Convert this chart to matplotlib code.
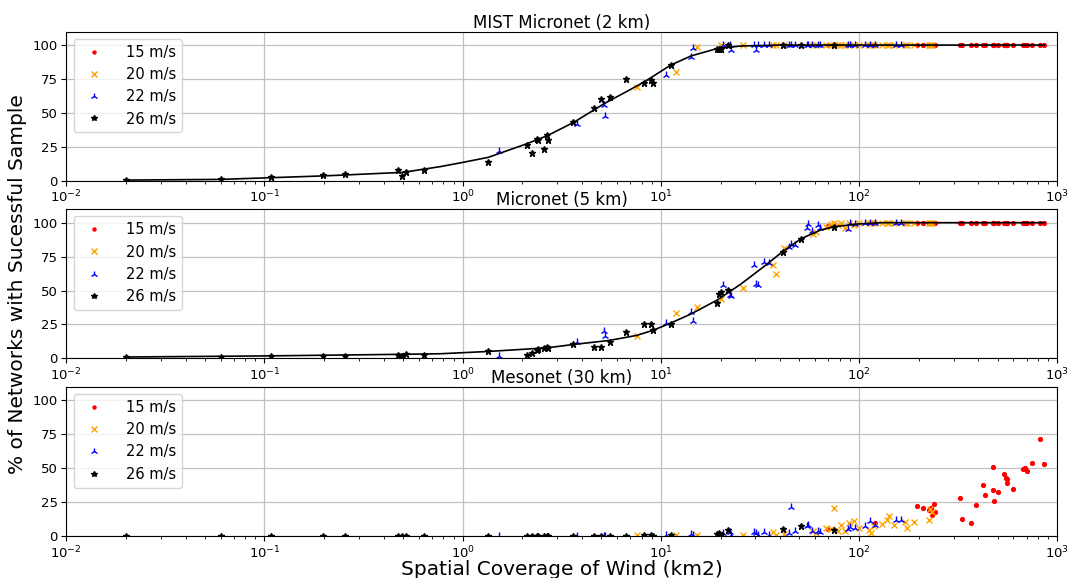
import numpy as np
import matplotlib
matplotlib.use('Agg')
import matplotlib.pyplot as plt

# spatial coverage (km2) of each network sample, per wind speed
x15 = [70, 121, 196, 211, 226, 231, 234, 239, 241, 322, 330, 367, 388, 423, 430,
       472, 475, 478, 501, 537, 552, 555, 560, 595, 672, 685, 703, 747, 817, 855]
x20 = [7.54, 11.9, 15.3, 20, 26, 36.6, 38, 41.8, 58.6, 60.3, 68, 72, 75, 78, 81,
       85, 89, 94, 100, 112, 115, 119, 130, 139, 142, 150, 170, 175, 189, 226, 228, 233]
x22 = [1.52, 3.76, 5.17, 5.2, 10.6, 14.2, 14.5, 20.7, 22.3, 22.6, 29.6, 30.3, 30.8,
       33, 35, 44.5, 45.5, 47.5, 54.5, 55, 58, 62, 63.5, 88, 90, 95, 107, 113, 120, 154, 163]
x26 = [0.02, 0.06, 0.108, 0.198, 0.256, 0.473, 0.496, 0.515, 0.638, 1.35, 2.10, 2.23,
       2.37, 2.40, 2.56, 2.66, 2.68, 3.62, 4.60, 4.98, 5.53, 6.65, 8.24, 8.90, 9.10,
       11.2, 19.2, 19.7, 20.2, 21.8, 41.2, 51.0, 75.0]

# MIST Micronet (2 km)
mist15 = [100] * 30
mist20 = [69, 80.2, 98.3] + [100] * 29
mist22 = [21.7, 41.5, 55.6, 47.6, 77.8, 91.3, 97.5, 100, 100, 96.3, 100, 96.3, 100,
          100, 100, 100, 100, 100, 100, 100, 100, 100, 100, 100, 100, 100, 100, 100, 100, 100, 100]
mist26 = [0.5, 1.2, 2.5, 4.4, 4.7, 7.6, 3.2, 6.7, 7.6, 13.6, 26.4, 20.5, 30.9, 30.4,
          23.5, 34, 30, 43.2, 53.6, 60.5, 61.7, 75.3, 72.3, 74, 72, 85, 97, 97, 97,
          100, 100, 100, 100]

# Micronet (5 km)
micro15 = [97.6] + [100] * 29
micro20 = [16.5, 33.3, 38, 44, 52, 68.6, 62, 81, 92, 93, 97, 99, 100, 98, 100, 96,
           100, 98, 100, 100, 100, 100, 100, 100, 100, 100, 100, 100, 100, 100, 100, 100]
micro22 = [1.5, 11.8, 20.4, 16.7, 26, 34, 27.7, 54, 46.6, 45.6, 68.6, 54.6, 54, 71,
           70, 82, 84, 83.5, 95.8, 99, 94, 98.5, 96, 95, 100, 99, 100, 100, 100, 100, 100]
micro26 = [1.0, 1.0, 1.7, 1.5, 1.7, 2.2, 2.0, 3.4, 2.2, 5.1, 2.2, 4.2, 6.4, 6.8, 8.0,
           8.3, 8.0, 10.4, 8.3, 8.3, 11.8, 19.6, 25.5, 25.5, 21, 25.5, 41, 47.8, 49,
           50.5, 78.7, 88.2, 97]

# Mesonet (30 km)
meso15 = [5.3, 9.9, 21.9, 20.9, 18.9, 20.9, 15.8, 23.9, 17.8, 27.8, 12.4, 9.3, 22.9,
          37.9, 29.9, 33.6, 50.9, 25.9, 32.2, 45.4, 43, 42, 38.9, 34.9, 49.1, 50.4,
          48.1, 54.1, 71.4, 52.9]
meso20 = [0.5, 0.5, 1, 1, 0.5, 3.3, 1, 1.5, 4, 2, 6, 5, 20.5, 4, 8, 4, 9.4, 11, 6,
          4.4, 2, 7, 9, 12, 15, 8, 10.6, 6, 10.6, 11.8, 20, 18]
meso22 = [0, 0, 0, 0, 1, 1.6, 1, 2.5, 3, 1, 3, 2, 1, 3, 1, 2, 21.6, 4, 7, 7.8, 4,
          4, 3, 5, 6.8, 6, 7.6, 11, 8, 12, 11.6]
meso26 = [0] * 22 + [1, 0.5, 0, 0.5, 1.5, 2, 1, 4.4, 5, 7, 4.4]

# fitted curves
fit_x1 = [0.02, 0.06, 0.11, 0.2, 0.25, 0.5, 0.77, 1.0, 1.35, 2.1, 2.68, 3.65, 5.17,
          6.65, 8.24, 11.2, 14.2, 19.3, 25.3, 40, 100, 860]
fit_y1 = [0.5, 1.0, 2.3, 3.6, 4.2, 6.2, 10.4, 13.5, 17.3, 27.2, 33.3, 43.2, 56.8,
          65.4, 72.8, 85.2, 92, 97.5, 99.3, 100, 100, 100]
fit_x2 = [0.02, 0.1, 0.5, 0.77, 1.35, 2.68, 3.65, 5.48, 7.54, 9.1, 11.2, 14.2, 19.3,
          25.3, 32.6, 41.2, 51, 64, 75, 98, 130, 860]
fit_y2 = [1.0, 1.8, 3.0, 3.4, 5.1, 7.8, 10.3, 13.2, 16.9, 20.6, 26.0, 32.7, 43.1,
          54.7, 66.9, 78.7, 88.2, 94.6, 97, 99, 100, 100]

panels = [
    ('MIST Micronet (2 km)', [mist15, mist20, mist22, mist26], (fit_x1, fit_y1)),
    ('Micronet (5 km)', [micro15, micro20, micro22, micro26], (fit_x2, fit_y2)),
    ('Mesonet (30 km)', [meso15, meso20, meso22, meso26], None),
]
xs = [x15, x20, x22, x26]
labels = ['15 m/s', '20 m/s', '22 m/s', '26 m/s']
styles = [('.', 'red', 5.5), ('x', 'orange', 5), ('2', 'blue', 6), ('*', 'black', 5)]

fig, axes = plt.subplots(3, 1, figsize=(10.69, 5.78), dpi=100)
fig.subplots_adjust(left=0.062, right=0.989, top=0.9455, bottom=0.0727, hspace=0.19)

for ax, (title, ys, fit) in zip(axes, panels):
    for x, y, lab, (m, c, ms) in zip(xs, ys, labels, styles):
        ax.plot(x, y, m, color=c, ms=ms, label=lab, linestyle='none')
    if fit is not None:
        ax.plot(fit[0], fit[1], '-', color='black', lw=1.2)
    ax.set_xscale('log')
    ax.set_xlim(1e-2, 1e3)
    ax.set_ylim(0, 110)
    ax.set_yticks([0, 25, 50, 75, 100])
    ax.grid(True, color='#c0c0c0', lw=0.9)
    ax.set_axisbelow(True)
    ax.tick_params(labelsize=9.5, pad=2.5)
    ax.set_title(title, fontsize=12, pad=2)
    ax.legend(loc='upper left', fontsize=10.5, markerscale=0.8, handletextpad=1.2)

axes[1].set_ylabel('% of Networks with Sucessful Sample', fontsize=14.5)
axes[2].set_xlabel('Spatial Coverage of Wind (km2)', fontsize=14.5, labelpad=-1)

fig.savefig('out.png', dpi=100)
